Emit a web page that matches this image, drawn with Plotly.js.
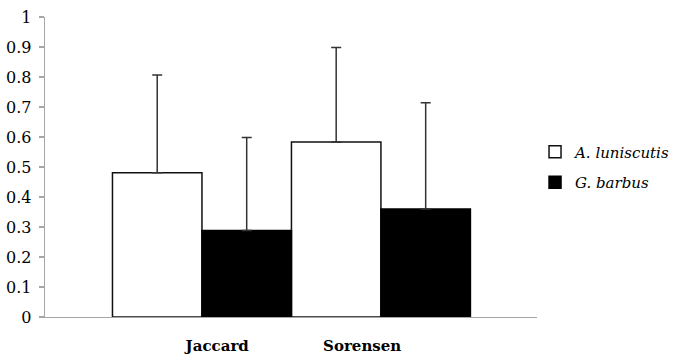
<!DOCTYPE html>
<html>
<head>
<meta charset="utf-8">
<script src="https://cdn.plot.ly/plotly-3.0.1.min.js"></script>
<style>html,body{margin:0;padding:0;background:#fff;}#chart{width:673px;height:354px;}</style>
</head>
<body>
<div id="chart"></div>
<script>
const categories = ["Jaccard", "Sorensen"];
const seriesNames = ["A. luniscutis", "G. barbus"];
const aluniscutis = [0.481, 0.583];
const aluniscutisErr = [0.326, 0.315];
const gbarbus = [0.288, 0.360];
const gbarbusErr = [0.310, 0.354];
const yTicks = [0, 0.1, 0.2, 0.3, 0.4, 0.5, 0.6, 0.7, 0.8, 0.9, 1];
const yTickText = ["0", "0.1", "0.2", "0.3", "0.4", "0.5", "0.6", "0.7", "0.8", "0.9", "1"];

const idx = categories.map((c, i) => i);
const labelPos = [0.085, 0.895];
const FONT = "DejaVu Serif";

const errStyle = {type: "data", visible: true, color: "#333333", thickness: 1.5, width: 5};

const traces = [
  {
    type: "bar", name: seriesNames[0], x: idx, y: aluniscutis,
    error_y: Object.assign({array: aluniscutisErr, symmetric: false, arrayminus: [0, 0]}, errStyle),
    marker: {color: "#ffffff", line: {color: "#111111", width: 1.5}},
    legendgroup: "a", hoverinfo: "y"
  },
  {
    type: "bar", name: seriesNames[1], x: idx, y: gbarbus,
    error_y: Object.assign({array: gbarbusErr, symmetric: false, arrayminus: [0, 0]}, errStyle),
    marker: {color: "#000000", line: {color: "#000000", width: 1.5}},
    legendgroup: "b", hoverinfo: "y"
  }
];

const layout = {
  width: 673, height: 354,
  margin: {l: 45, r: 136, t: 17, b: 37, autoexpand: false},
  paper_bgcolor: "#ffffff", plot_bgcolor: "#ffffff",
  barmode: "group", bargap: 0, bargroupgap: 0,
  font: {family: FONT, size: 16, color: "#000000"},
  showlegend: true,
  legend: {
    xref: "container", x: 0.795, y: 0.50, xanchor: "left", yanchor: "middle",
    font: {family: FONT, size: 15, style: "italic", color: "#000000"},
    tracegroupgap: 8, traceorder: "grouped", itemwidth: 30
  },
  xaxis: {
    type: "linear", range: [-0.877, 1.872],
    tickmode: "array", tickvals: labelPos, ticktext: categories,
    tickfont: {family: FONT, size: 15, weight: "bold", color: "#000"},
    ticks: "", showgrid: false, zeroline: false,
    showline: true, linecolor: "#a6a6a6", linewidth: 1.3,
    ticklabelstandoff: 15, fixedrange: true
  },
  yaxis: {
    range: [0, 1],
    tickmode: "array", tickvals: yTicks, ticktext: yTickText,
    ticks: "outside", ticklen: 5, tickcolor: "#a6a6a6", tickwidth: 1.3,
    showgrid: false, zeroline: false,
    showline: true, linecolor: "#a6a6a6", linewidth: 1.3,
    tickfont: {family: FONT, size: 16, color: "#000"},
    ticklabelstandoff: 4, fixedrange: true
  },
  shapes: [
    {type: "line", xref: "paper", yref: "y", x0: 1, x1: 1, y0: 0, y1: -0.017,
     line: {color: "#a6a6a6", width: 1.3}}
  ]
};

Plotly.newPlot("chart", traces, layout, {displayModeBar: false, staticPlot: true});
</script>
</body>
</html>
